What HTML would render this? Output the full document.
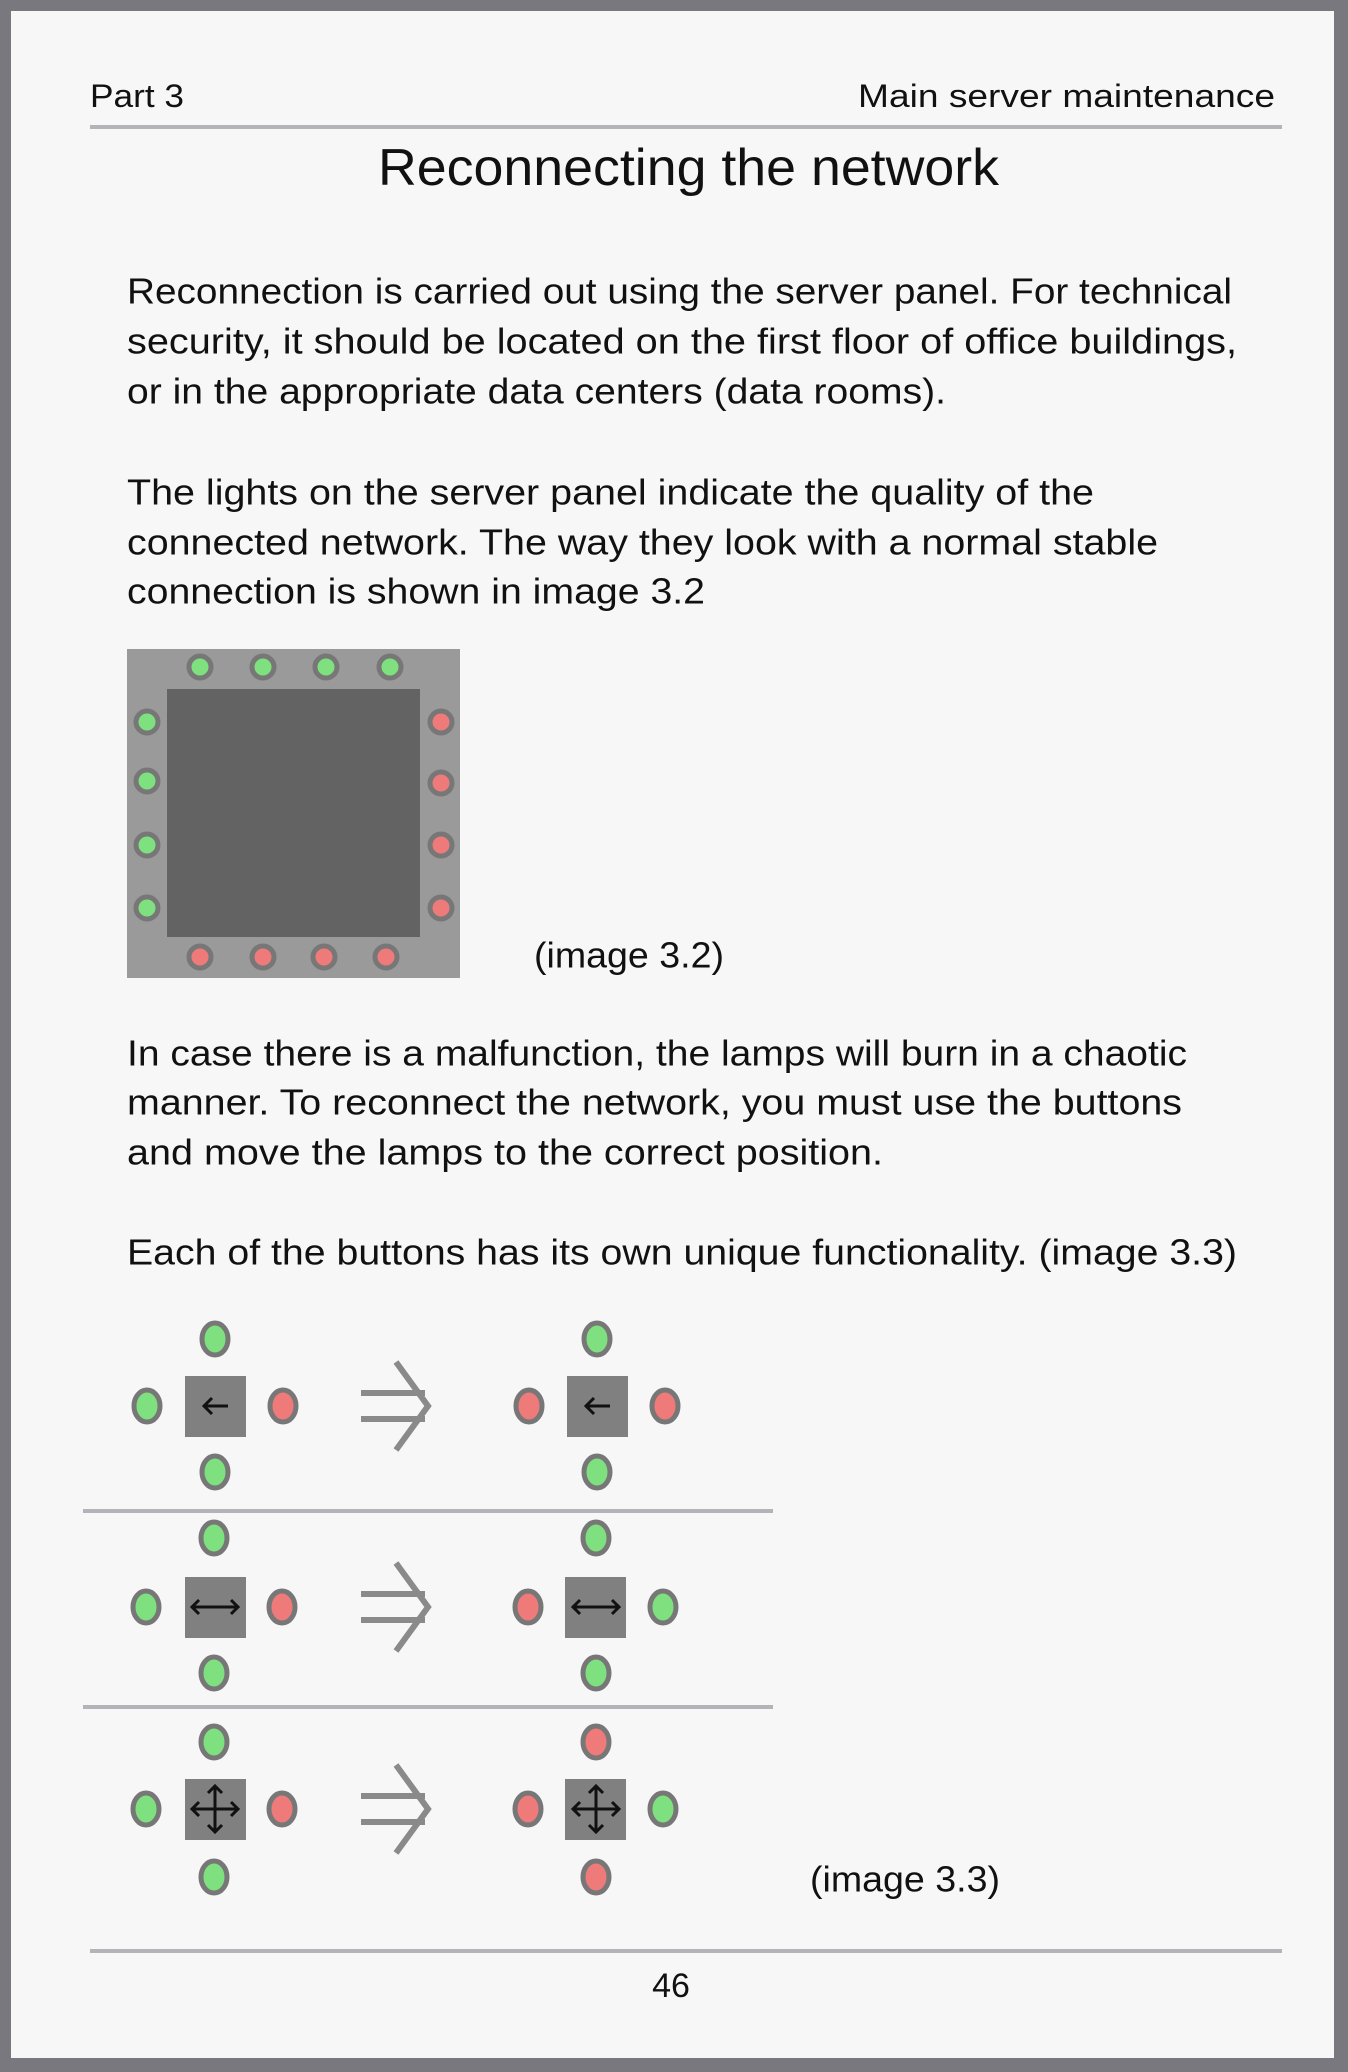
<!DOCTYPE html>
<html><head><meta charset="utf-8"><style>
html,body{margin:0;padding:0;background:#78787e;}
svg{display:block;font-family:"Liberation Sans",sans-serif;}
</style></head><body>
<svg width="1348" height="2072" viewBox="0 0 1348 2072">
<rect x="0" y="0" width="1348" height="2072" fill="#78787e"/>
<rect x="11" y="11" width="1323" height="2047" fill="#f7f7f7"/>
<g fill="#111" dominant-baseline="central">
<text x="90" y="96" font-size="32" textLength="94" lengthAdjust="spacingAndGlyphs">Part 3</text>
<text x="858" y="96" font-size="32" textLength="417" lengthAdjust="spacingAndGlyphs">Main server maintenance</text>
<text x="378" y="168" font-size="52" textLength="621" lengthAdjust="spacingAndGlyphs">Reconnecting the network</text>
<g font-size="36">
<text x="127" y="291" textLength="1105" lengthAdjust="spacingAndGlyphs">Reconnection is carried out using the server panel. For technical</text>
<text x="127" y="341" textLength="1110" lengthAdjust="spacingAndGlyphs">security, it should be located on the first floor of office buildings,</text>
<text x="127" y="391" textLength="819" lengthAdjust="spacingAndGlyphs">or in the appropriate data centers (data rooms).</text>
</g>
<g font-size="36">
<text x="127" y="492" textLength="967" lengthAdjust="spacingAndGlyphs">The lights on the server panel indicate the quality of the</text>
<text x="127" y="542" textLength="1031" lengthAdjust="spacingAndGlyphs">connected network. The way they look with a normal stable</text>
<text x="127" y="591" textLength="578" lengthAdjust="spacingAndGlyphs">connection is shown in image 3.2</text>
</g>
<text x="534" y="955" font-size="36" textLength="190" lengthAdjust="spacingAndGlyphs">(image 3.2)</text>
<g font-size="36">
<text x="127" y="1053" textLength="1060" lengthAdjust="spacingAndGlyphs">In case there is a malfunction, the lamps will burn in a chaotic</text>
<text x="127" y="1102" textLength="1055" lengthAdjust="spacingAndGlyphs">manner. To reconnect the network, you must use the buttons</text>
<text x="127" y="1152" textLength="756" lengthAdjust="spacingAndGlyphs">and move the lamps to the correct position.</text>
</g>
<text x="127" y="1252" font-size="36" textLength="1110" lengthAdjust="spacingAndGlyphs">Each of the buttons has its own unique functionality. (image 3.3)</text>
<text x="810" y="1879" font-size="36" textLength="190" lengthAdjust="spacingAndGlyphs">(image 3.3)</text>
<text x="671" y="1986" font-size="34" text-anchor="middle">46</text>
</g>
<rect x="90" y="125" width="1192" height="4" fill="#b4b4b8"/>
<rect x="90" y="1949" width="1192" height="4" fill="#b4b4b8"/>
<rect x="83" y="1509" width="690" height="4" fill="#b4b4b8"/>
<rect x="83" y="1705" width="690" height="4" fill="#b4b4b8"/>

<g>
<rect x="127" y="649" width="333" height="329" fill="#9a9a9a"/>
<rect x="167" y="689" width="253" height="248" fill="#636363"/>
<g stroke="#777" stroke-width="5">
<circle cx="200" cy="667" r="11" fill="#7ee07e"/><circle cx="263" cy="667" r="11" fill="#7ee07e"/><circle cx="326" cy="667" r="11" fill="#7ee07e"/><circle cx="390" cy="667" r="11" fill="#7ee07e"/>
<circle cx="147" cy="722" r="11" fill="#7ee07e"/><circle cx="147" cy="781" r="11" fill="#7ee07e"/><circle cx="147" cy="845" r="11" fill="#7ee07e"/><circle cx="147" cy="908" r="11" fill="#7ee07e"/>
<circle cx="441" cy="722" r="11" fill="#ee7a7a"/><circle cx="441" cy="783" r="11" fill="#ee7a7a"/><circle cx="441" cy="845" r="11" fill="#ee7a7a"/><circle cx="441" cy="908" r="11" fill="#ee7a7a"/>
<circle cx="200" cy="957" r="11" fill="#ee7a7a"/><circle cx="263" cy="957" r="11" fill="#ee7a7a"/><circle cx="324" cy="957" r="11" fill="#ee7a7a"/><circle cx="386" cy="957" r="11" fill="#ee7a7a"/>
</g>
</g>

<defs>
<g id="arrowbig" fill="none" stroke="#8a8a8a" stroke-width="6">
<line x1="0" y1="-13" x2="64" y2="-13"/><line x1="0" y1="13" x2="64" y2="13"/>
<polyline points="35,-44 67,0 35,44"/>
</g>
</defs>

<g stroke="#777" stroke-width="5">
<ellipse cx="215" cy="1339" rx="13" ry="16" fill="#7ee07e"/>
<ellipse cx="147" cy="1406" rx="13" ry="16" fill="#7ee07e"/>
<rect x="185" y="1376" width="61" height="61" fill="#808080" stroke="none"/>
<ellipse cx="283" cy="1406" rx="13" ry="16" fill="#ee7a7a"/>
<ellipse cx="215" cy="1472" rx="13" ry="16" fill="#7ee07e"/>
<ellipse cx="529" cy="1406" rx="13" ry="16" fill="#ee7a7a"/>
<rect x="567" y="1376" width="61" height="61" fill="#808080" stroke="none"/>
<ellipse cx="665" cy="1406" rx="13" ry="16" fill="#ee7a7a"/>
<ellipse cx="597" cy="1339" rx="13" ry="16" fill="#7ee07e"/>
<ellipse cx="597" cy="1472" rx="13" ry="16" fill="#7ee07e"/>
</g>
<g stroke="#111" stroke-width="3" fill="none">
<path d="M204 1406 H228 M212 1398 L204 1406 L212 1414"/>
<path d="M586 1406 H610 M594 1398 L586 1406 L594 1414"/>
</g>

<g stroke="#777" stroke-width="5">
<ellipse cx="214" cy="1538" rx="13" ry="16" fill="#7ee07e"/>
<ellipse cx="146" cy="1607" rx="13" ry="16" fill="#7ee07e"/>
<rect x="185" y="1577" width="61" height="61" fill="#808080" stroke="none"/>
<ellipse cx="282" cy="1607" rx="13" ry="16" fill="#ee7a7a"/>
<ellipse cx="214" cy="1673" rx="13" ry="16" fill="#7ee07e"/>
<ellipse cx="528" cy="1607" rx="13" ry="16" fill="#ee7a7a"/>
<rect x="565" y="1577" width="61" height="61" fill="#808080" stroke="none"/>
<ellipse cx="663" cy="1607" rx="13" ry="16" fill="#7ee07e"/>
<ellipse cx="596" cy="1538" rx="13" ry="16" fill="#7ee07e"/>
<ellipse cx="596" cy="1673" rx="13" ry="16" fill="#7ee07e"/>
</g>
<g stroke="#111" stroke-width="3" fill="none">
<path d="M192 1607 H238 M199 1600 L192 1607 L199 1614 M231 1600 L238 1607 L231 1614"/>
<path d="M573 1607 H619 M580 1600 L573 1607 L580 1614 M612 1600 L619 1607 L612 1614"/>
</g>

<g stroke="#777" stroke-width="5">
<ellipse cx="214" cy="1742" rx="13" ry="16" fill="#7ee07e"/>
<ellipse cx="146" cy="1809" rx="13" ry="16" fill="#7ee07e"/>
<rect x="185" y="1779" width="61" height="61" fill="#808080" stroke="none"/>
<ellipse cx="282" cy="1809" rx="13" ry="16" fill="#ee7a7a"/>
<ellipse cx="214" cy="1877" rx="13" ry="16" fill="#7ee07e"/>
<ellipse cx="528" cy="1809" rx="13" ry="16" fill="#ee7a7a"/>
<rect x="565" y="1779" width="61" height="61" fill="#808080" stroke="none"/>
<ellipse cx="663" cy="1809" rx="13" ry="16" fill="#7ee07e"/>
<ellipse cx="596" cy="1742" rx="13" ry="16" fill="#ee7a7a"/>
<ellipse cx="596" cy="1877" rx="13" ry="16" fill="#ee7a7a"/>
</g>
<g stroke="#111" stroke-width="3" fill="none">
<path d="M215 1786 V1832 M192 1809 H238 M208 1793 L215 1786 L222 1793 M208 1825 L215 1832 L222 1825 M199 1802 L192 1809 L199 1816 M231 1802 L238 1809 L231 1816"/>
<path d="M596 1786 V1832 M573 1809 H619 M589 1793 L596 1786 L603 1793 M589 1825 L596 1832 L603 1825 M580 1802 L573 1809 L580 1816 M612 1802 L619 1809 L612 1816"/>
</g>
<g>
<use href="#arrowbig" x="361" y="1406"/>
<use href="#arrowbig" x="361" y="1607"/>
<use href="#arrowbig" x="361" y="1809"/>
</g>
</svg>
</body></html>
